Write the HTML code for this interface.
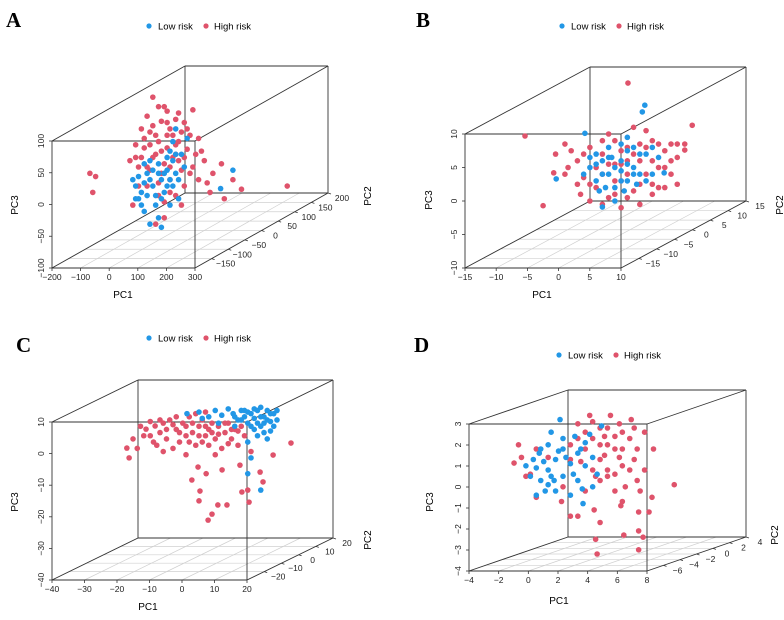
<!DOCTYPE html>
<html><head><meta charset="utf-8"><style>
body{margin:0;background:#fff}
svg{display:block;font-family:"Liberation Sans",sans-serif}
</style></head><body>
<svg id="fig" width="784" height="620" viewBox="0 0 784 620"></svg>
<script>
const seriesNames=["Low risk","High risk"];
const aBlue=[[-150,-20],[-140,-50],[-120,-40],[-110,-70],[-100,-10],[-80,-30],[-70,-60],[-60,-80],[-50,-20],[-40,-40],[-30,-5],[-20,-60],[-10,-30],[0,-10],[10,-50],[20,20],[30,0],[-90,10],[-130,-15],[-60,5],[-10,40],[40,45],[0,60],[200,-5],[157,-34],[-90,-90],[-50,-95],[-120,-60],[-30,15],[-80,-5],[-140,-30],[-100,-45],[-90,-20],[-70,-45],[-50,-50],[-40,-10],[-20,-20],[-10,10],[10,-20],[-110,-25],[-130,-50],[-60,-10],[-30,-30],[0,20],[-20,25],[-110,5]];
const aRed=[[-80,110],[-60,95],[-30,88],[-100,80],[10,85],[30,70],[60,90],[-50,72],[-120,60],[-90,55],[-20,60],[20,55],[50,50],[80,45],[-140,35],[-110,30],[-60,40],[-30,30],[0,35],[40,28],[-160,10],[-130,0],[-80,15],[-40,5],[10,10],[60,0],[100,10],[130,-10],[160,5],[200,-20],[230,-35],[120,-40],[-100,-30],[-60,-45],[-20,-20],[30,-30],[-70,-90],[-40,-80],[-300,-10],[-280,-15],[-290,-40],[390,-30],[170,-50],[-150,-60],[-70,20],[-10,15],[20,-5],[-50,-10],[-90,-5],[0,-45],[70,20],[-30,50],[-120,15],[40,60],[-110,45],[-90,35],[-70,50],[-50,25],[-30,70],[-10,50],[10,40],[30,15],[-20,0],[0,20],[-60,-25],[-40,-55],[-100,0],[-20,-40],[50,-10],[80,-20],[90,25],[-130,-30],[-140,15],[20,-60],[-80,65],[0,75],[-40,95],[110,-25]];
const bBlue=[[3.8,9.3],[3.4,8.3],[-5.8,5.1],[-10.4,-1.7],[-5,0],[-4,-2],[-3,1],[-2,-1],[-1,-3],[0,1],[1,-2],[2,0],[3,-1],[-2,3],[0,3.5],[2,3],[4,2],[5,-1],[-1,-5],[-3.5,-3.5],[1,4.5],[6,1.5],[-4,2],[0,-0.5],[6.9,-0.8],[-3,-5.9],[-1.5,1.5],[2.5,-2.5],[-4,0.5],[-3,-1],[-2,1.5],[-1,0],[0,-2],[1,0.5],[2,-1],[3,2],[-5,1.5],[-6,-1],[4,-2],[1,2.5],[-2.5,-3],[0.5,-3.5],[5,3]];
const bRed=[[-15.4,4.7],[1.1,12.6],[11.4,6.3],[-12.5,-5.7],[-10.8,-0.8],[-10.5,2],[-9,3.5],[-8,2.5],[-7,1],[-6,-1.5],[-5,3],[-4,-3],[-3,2],[-2,-4.5],[-1,4],[0,-2],[1,3],[2,-3.5],[3,1],[4,-1],[5,4],[6,0],[7,2.5],[8,-1],[9,1.5],[10.2,2.6],[10.2,3.5],[5,-4],[-3,-5.5],[0,-6],[-5,-5],[2,6],[-1,0.5],[3,-5.5],[7,-3],[6,3.5],[-6.5,-4],[-8.5,0],[4,5.5],[-2,5],[1,-1],[8,3.5],[9,-2.5],[-4,0],[-3,-1],[-1,-2],[1,1],[2,2],[3,-2.5],[4,3],[5,1],[-2,0.5],[0,0.5],[-5,-2.5],[-6,2],[7,0],[8,1],[-1,-4],[1,-4.5],[3,3.5],[5,-2.5],[-7,-2.5],[9,3.5],[6,-3],[0,2.5],[-3,4],[-9,-1]];
const cBlue=[[-11.7,6],[-8,6.5],[-5,5],[-3,7],[-1,5.5],[1,7.5],[2.5,6],[4,4],[5,7],[6,5],[7,3],[8,6],[9,4.5],[10,7],[11,2],[12,5],[13,7],[14,3.5],[15,6],[16,4],[12,0],[9,1],[7,-3],[14,0.5],[10,-1],[7,-13],[11,-18.2],[8,-8],[3,2],[-2,3],[11,8],[13,-2],[3,5],[5,4],[7,6.5],[9,7.5],[11,5],[12,3],[13,4],[14,6],[15,2],[10,3],[8,2],[6,7],[-7,4.5],[16,7]];
const cRed=[[-30.2,-4.9],[-29.5,-8],[-28.3,-2],[-24.3,1.1],[-21.5,2.1],[-19,3],[-25,-1],[-22,-3],[-20,0],[-18,-2],[-17,4],[-15,1],[-14,-3],[-13,3],[-12,-1],[-11,5],[-10,0],[-9,-4],[-8,2],[-7,4],[-6,-1],[-5,1],[-4,3],[-3,-2],[-2,2],[-1,-5],[0,0],[1,3],[2,-2],[3,1],[4,-4],[5,2],[6,-1],[-16,-5],[-23,3.5],[-5.2,-27.7],[-4,-25.8],[-8,-21.6],[-2.2,-22.9],[0.6,-22.9],[-7.7,-18.5],[-10.2,-15],[7,-18.2],[7.4,-22],[11.7,-15.6],[10.8,-12.5],[5.2,-18.8],[-5.8,-13],[-0.9,-11.8],[4.6,-10.3],[-8.3,-10.9],[20.3,-3.3],[14.8,-7.1],[-12,-7],[-3,-7],[8,-6],[-9,6],[-6,6.5],[-19,-6],[-27,-5],[-23,-1],[-21,-4],[-18,1],[-16,2.5],[-14,0],[-12,2],[-10,3],[-8,-1],[-6,2],[-4,0],[-2,-0.5],[0,3],[2,1],[4,0.5],[-11,-3],[-7,-3],[-15,5],[-20,4],[-26,2],[1,-3.5],[-5,-4]];
const dBlue=[[-3.2,-0.3],[-1.2,2.4],[1.6,2.1],[0.35,-1.6],[-3,0.5],[-2.5,1],[-2.5,-0.5],[-2,0],[-2,1.2],[-1.5,0.5],[-1.5,-1],[-1,1],[-1,-0.3],[-0.5,0.3],[-0.5,-1.2],[0,0.8],[0,-0.5],[0.5,0.2],[0.5,1.3],[1,-0.8],[1,0.6],[-2.8,-1.2],[-1.8,1.8],[-0.2,1.6],[1.3,-0.2],[-3.5,0.2],[-2.2,-1],[0.8,1.7],[-2.8,0.1],[-2.3,0.4],[-1.8,-0.3],[-1.3,0.9],[-0.8,0.6],[-0.3,-0.2],[0.2,1],[-1.6,-0.5],[-2.6,0.8],[-1,1.5],[-2,-0.7],[0.3,-0.9]];
const dRed=[[6.5,-0.7],[-4.3,0.33],[-2.8,-1.3],[1.2,-3.3],[1.3,-4],[4.1,-3.8],[3.1,-3.1],[4.1,-2.9],[4.4,-3.2],[1.5,-2.5],[-0.5,-2.2],[0,-2.2],[1.1,-1.9],[2.9,-1.7],[4.1,-2],[4.8,-2],[-1.1,-1.5],[5.1,1],[4.5,1.8],[0,2.2],[0.5,1.8],[1,2.3],[1.5,1.2],[2,2],[2.5,1],[2.8,2.2],[3,0.2],[3.5,1.5],[3.8,0.5],[4,-0.5],[2,-0.3],[1,0],[0.5,-1],[2.5,-1],[3.2,-0.8],[-3.8,0.6],[-3.5,-0.3],[-2,0.6],[-1,-0.8],[1.8,0.7],[3,1.8],[4.5,0],[5,-1.3],[2.2,2.6],[-0.5,1.2],[0.2,0.4],[1.5,-0.5],[3.6,2.4],[-4,1.2],[0.5,1],[1,1.5],[1.5,2],[2,1.2],[2.5,1.6],[3,1],[3.5,0],[4,1],[2,0],[1.2,-0.3],[2.5,-0.2],[3.8,2],[0,1.5],[-0.5,0.5],[1.5,0.5],[4.2,-1],[3,-1.5],[-2.8,1],[-3.2,-0.2],[2.8,0.6],[0.8,2.6],[1.8,1.6]];
const aTicks={x:[-200,-100,0,100,200,300],z:[-100,-50,0,50,100],y:[-150,-100,-50,0,50,100,150,200]};
const bTicks={x:[-15,-10,-5,0,5,10],z:[-10,-5,0,5,10],y:[-15,-10,-5,0,5,10,15]};
const cTicks={x:[-40,-30,-20,-10,0,10,20],z:[-40,-30,-20,-10,0,10],y:[-20,-10,0,10,20]};
const dTicks={x:[-4,-2,0,2,4,6,8],z:[-4,-3,-2,-1,0,1,2,3],y:[-6,-4,-2,0,2,4]};

const NS="http://www.w3.org/2000/svg";
const svg=document.getElementById('fig');
function mk(tag,attrs,parent,text){const e=document.createElementNS(NS,tag);for(const k in attrs)e.setAttribute(k,attrs[k]);if(text!==undefined)e.textContent=text;parent.appendChild(e);return e;}
const BLUE="#2297E6",RED="#DF536B";
const R=2.8;

function panel(id,letter,lp,box,rng,ticks,red,blue,midY,titles,leg){
  const g=mk('g',{},svg);
  
  
  const W=box.R-box.L,H=box.B-box.T;
  const P=(x,y,z)=>{const d=(y-rng.y[0])/(rng.y[1]-rng.y[0]);return [box.L+(x-rng.x[0])/(rng.x[1]-rng.x[0])*W+d*box.dx, box.B-(z-rng.z[0])/(rng.z[1]-rng.z[0])*H+d*box.dy];};
  const lt=mk('text',{x:lp[0],y:lp[1],'font-family':'Liberation Serif, serif','font-weight':'bold','font-size':21},g,letter);
  
  
  const grid=mk('g',{stroke:'#d0d0d0','stroke-width':0.7},g);
  
  
  ticks.x.forEach(v=>{const a=P(v,rng.y[0],rng.z[0]),b=P(v,rng.y[1],rng.z[0]);mk('line',{x1:a[0],y1:a[1],x2:b[0],y2:b[1]},grid);});
  ticks.y.forEach(v=>{const a=P(rng.x[0],v,rng.z[0]),b=P(rng.x[1],v,rng.z[0]);mk('line',{x1:a[0],y1:a[1],x2:b[0],y2:b[1]},grid);});
  const bx=mk('g',{stroke:'#333','stroke-width':0.9,fill:'none'},g);
  
  
  const corners=[];
  for(const x of rng.x)for(const y of rng.y)for(const z of rng.z)corners.push([x,y,z]);
  for(let i=0;i<8;i++)for(let j=i+1;j<8;j++){const a=corners[i],b=corners[j];let diff=0;for(let k=0;k<3;k++)if(a[k]!==b[k])diff++;if(diff===1){const p=P(...a),q=P(...b);mk('line',{x1:p[0],y1:p[1],x2:q[0],y2:q[1]},bx);}}
  const tl=mk('g',{'font-size':8.5,fill:'#222'},g);
  
  
  ticks.x.forEach(v=>{const p=P(v,rng.y[0],rng.z[0]);mk('line',{x1:p[0],y1:p[1],x2:p[0],y2:p[1]+3,stroke:'#333','stroke-width':0.8},tl);mk('text',{x:p[0],y:p[1]+12,'text-anchor':'middle'},tl,String(v).replace('-','\u2212'));});
  ticks.z.forEach(v=>{const p=P(rng.x[0],rng.y[0],v);mk('line',{x1:p[0],y1:p[1],x2:p[0]-3,y2:p[1],stroke:'#333','stroke-width':0.8},tl);mk('text',{x:p[0]-8,y:p[1],'text-anchor':'middle',transform:`rotate(-90 ${p[0]-8} ${p[1]})`},tl,String(v).replace('-','\u2212'));});
  ticks.y.forEach(v=>{const p=P(rng.x[1],v,rng.z[0]);mk('line',{x1:p[0],y1:p[1],x2:p[0]+3,y2:p[1]+1,stroke:'#333','stroke-width':0.8},tl);mk('text',{x:p[0]+14,y:p[1]+8,'text-anchor':'middle'},tl,String(v).replace('-','\u2212'));});
  const t1=mk('text',{x:titles.pc1[0],y:titles.pc1[1],'font-size':10,'text-anchor':'middle'},g,'PC1');
  
  const t3=mk('text',{x:titles.pc3[0],y:titles.pc3[1],'font-size':10,'text-anchor':'middle',transform:`rotate(-90 ${titles.pc3[0]} ${titles.pc3[1]})`},g,'PC3');
  
  const t2=mk('text',{x:titles.pc2[0],y:titles.pc2[1],'font-size':10,'text-anchor':'middle',transform:`rotate(-90 ${titles.pc2[0]} ${titles.pc2[1]})`},g,'PC2');
  
  const pr=mk('g',{fill:RED},g);
  
  red.forEach(d=>{const p=P(d[0],midY,d[1]);const c=mk('circle',{cx:p[0],cy:p[1],r:R},pr);
    
    });
  const pb=mk('g',{fill:BLUE},g);
  
  blue.forEach(d=>{const p=P(d[0],midY,d[1]);const c=mk('circle',{cx:p[0],cy:p[1],r:R},pb);
    
    });
  const lg=mk('g',{'font-size':9.5},g);
  
  mk('circle',{cx:leg[0],cy:leg[1],r:2.6,fill:BLUE},lg);
  mk('text',{x:leg[0]+9,y:leg[1]+3.5},lg,seriesNames[0]);
  mk('circle',{cx:leg[0]+57,cy:leg[1],r:2.6,fill:RED},lg);
  mk('text',{x:leg[0]+65,y:leg[1]+3.5},lg,seriesNames[1]);
}
panel('a','A',[6,27],{L:52,T:141,R:195,B:268,dx:133,dy:-75},{x:[-200,300],y:[-200,200],z:[-100,100]},aTicks,aRed,aBlue,0,{pc1:[123,298],pc3:[18,205],pc2:[371,196]},[149,26]);
panel('b','B',[416,27],{L:465,T:134,R:621,B:268,dx:125,dy:-67},{x:[-15,10],y:[-20,15],z:[-10,10]},bTicks,bRed,bBlue,-2.5,{pc1:[542,298],pc3:[432,200],pc2:[783,205]},[562,26]);
panel('c','C',[16,352],{L:52,T:422,R:247,B:580,dx:86,dy:-42},{x:[-40,20],y:[-30,20],z:[-40,10]},cTicks,cRed,cBlue,-5,{pc1:[148,610],pc3:[18,502],pc2:[371,540]},[149,338]);
panel('d','D',[414,352],{L:469,T:424,R:647,B:571,dx:99,dy:-34},{x:[-4,8],y:[-8,4],z:[-4,3]},dTicks,dRed,dBlue,-2,{pc1:[559,604],pc3:[433,502],pc2:[778,535]},[559,355]);
</script>
</body></html>
